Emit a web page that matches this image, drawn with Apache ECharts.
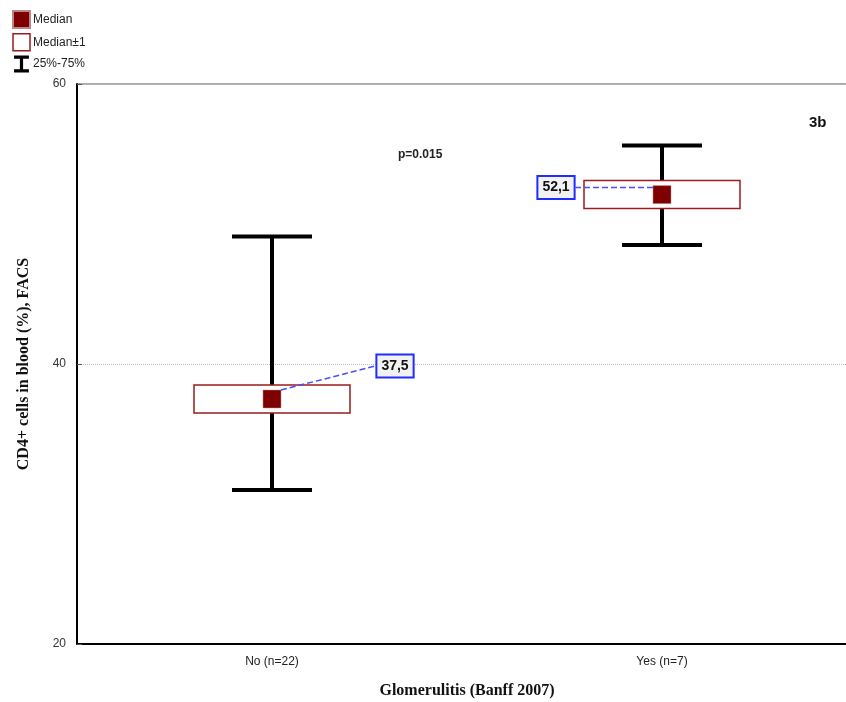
<!DOCTYPE html>
<html><head><meta charset="utf-8">
<script src="https://cdn.jsdelivr.net/npm/echarts@6/dist/echarts.min.js"></script>
<style>html,body{margin:0;padding:0;background:#fff}#c{width:846px;height:702px}</style>
</head><body><div id="c"></div>
<script>
const categories = ['No (n=22)', 'Yes (n=7)'];
const median = [37.5, 52.1];
const boxLow = [36.5, 51.1];
const boxHigh = [38.5, 53.1];
const q25 = [31.0, 48.5];
const q75 = [49.1, 55.6];
const yTicks = {min: 20, max: 60, interval: 20};

const chart = echarts.init(document.getElementById('c'));
const red = '#7f0000', boxRed = '#9b1c1c';
const sans = 'Arial, "Liberation Sans", sans-serif';
const narrow = '"Liberation Sans Narrow", "Arial Narrow", Arial, sans-serif';
const serif = '"Times New Roman", "Liberation Serif", serif';

chart.setOption({
  animation: false,
  grid: {left: 77, top: 84, right: -11, bottom: 58, outerBoundsMode: 'none', containLabel: false,
    show: true, borderColor: '#555', borderWidth: 1},
  legend: {
    orient: 'vertical', left: 7, top: 5, itemWidth: 17, itemHeight: 17, itemGap: 4,
    textStyle: {fontFamily: sans, fontSize: 12, color: '#222', padding: [0,0,0,-2]},
    data: [
      {name: 'Median', icon: 'rect', itemStyle: {color: red, opacity: 1}},
      {name: 'Median±1', icon: 'rect', itemStyle: {color: '#fff', borderColor: boxRed, borderWidth: 1.5}},
      {name: '25%-75%', icon: 'path://M0,0 H14 V3 H8.5 V13 H14 V16 H0 V13 H5.5 V3 H0Z', itemStyle: {color: '#000'}}
    ]
  },
  xAxis: {
    type: 'category', data: categories, boundaryGap: true,
    axisLine: {lineStyle: {color: '#000', width: 2}},
    axisTick: {inside: true, alignWithLabel: true, length: 4, lineStyle: {color: '#333'}},
    axisLabel: {fontFamily: narrow, fontSize: 12, color: '#222', margin: 12},
    name: 'Glomerulitis (Banff 2007)', nameLocation: 'middle', nameGap: 39,
    nameTextStyle: {fontFamily: serif, fontWeight: 'bold', fontSize: 16, color: '#111'}
  },
  yAxis: {
    type: 'value', min: yTicks.min, max: yTicks.max, interval: yTicks.interval,
    axisLine: {show: true, lineStyle: {color: '#000', width: 2}},
    axisTick: {show: true, inside: true, length: 5, lineStyle: {color: '#555'}},
    axisLabel: {fontFamily: sans, fontSize: 12, color: '#333', margin: 11},
    splitLine: {show: true, lineStyle: {color: '#bbb', type: 'dotted', width: 1}},
    name: 'CD4+ cells in blood (%), FACS', nameLocation: 'middle', nameGap: 45, nameRotate: 90,
    nameTextStyle: {fontFamily: serif, fontWeight: 'bold', fontSize: 16, color: '#111'}
  },
  graphic: [
    {type: 'text', left: 398, top: 149, style: {text: 'p=0.015', font: 'bold 12px ' + sans, fill: '#222'}},
    {type: 'text', left: 809, top: 115, style: {text: '3b', font: 'bold 15px ' + sans, fill: '#111'}}
  ],
  series: [
    {
      name: '25%-75%', type: 'custom', z: 2,
      data: categories.map((c, i) => [i, q25[i], q75[i]]),
      renderItem: (params, api) => {
        const lo = api.coord([api.value(0), api.value(1)]);
        const hi = api.coord([api.value(0), api.value(2)]);
        const hw = 40;
        const st = {stroke: '#000', lineWidth: 4};
        return {type: 'group', children: [
          {type: 'line', shape: {x1: lo[0], y1: lo[1], x2: hi[0], y2: hi[1]}, style: st},
          {type: 'line', shape: {x1: lo[0]-hw, y1: lo[1], x2: lo[0]+hw, y2: lo[1]}, style: st},
          {type: 'line', shape: {x1: hi[0]-hw, y1: hi[1], x2: hi[0]+hw, y2: hi[1]}, style: st}
        ]};
      },
      itemStyle: {color: '#000'}
    },
    {
      name: 'Median±1', type: 'custom', z: 3,
      data: categories.map((c, i) => [i, boxLow[i], boxHigh[i]]),
      renderItem: (params, api) => {
        const lo = api.coord([api.value(0), api.value(1)]);
        const hi = api.coord([api.value(0), api.value(2)]);
        const hw = 78;
        return {type: 'rect', shape: {x: lo[0]-hw, y: hi[1], width: 2*hw, height: lo[1]-hi[1]},
          style: {fill: '#fff', stroke: boxRed, lineWidth: 1.5}};
      },
      itemStyle: {color: '#fff', borderColor: boxRed}
    },
    {
      name: 'Median', type: 'scatter', z: 4,
      data: median.map((v, i) => [i, v]),
      symbol: 'rect', symbolSize: 18,
      itemStyle: {color: red, opacity: 1, borderColor: '#b88', borderWidth: 0.5},
      label: {
        show: true, position: 'inside',
        formatter: p => String(p.value[1].toFixed(1)).replace('.', ','),
        fontFamily: sans, fontWeight: 'bold', fontSize: 14, color: '#111',
        backgroundColor: '#f2f2f2', borderColor: '#1f2dff', borderWidth: 2, padding: [4, 4, 3, 4]
      },
      labelLine: {show: true, lineStyle: {color: '#4b4bff', type: 'dashed', width: 1.5, opacity: 1}},
      labelLayout: p => p.dataIndex === 0 ? {dx: 123, dy: -33} : {dx: -106, dy: -7}
    }
  ]
});
</script></body></html>
